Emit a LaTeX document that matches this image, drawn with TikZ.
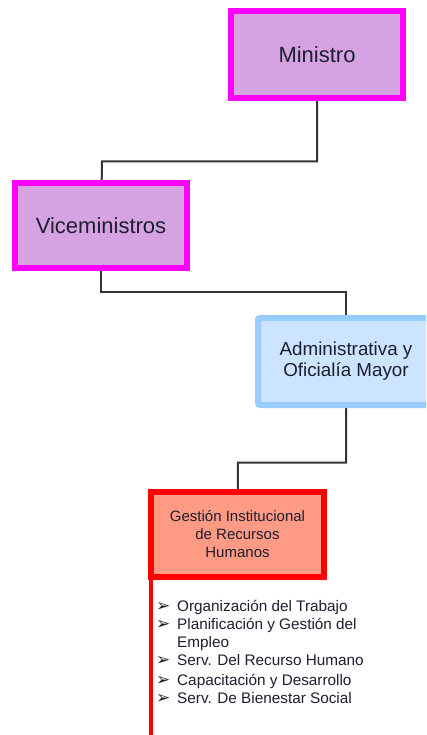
\documentclass[tikz,border=0pt]{standalone}
\usepackage{fontspec}
\setmainfont{Liberation Sans}
\newfontfamily\dejavu{DejaVu Sans}
\definecolor{lav}{HTML}{D5A2E2}
\definecolor{mag}{HTML}{FF00FF}
\definecolor{lblue}{HTML}{CCE4FF}
\definecolor{mblue}{HTML}{99CCFF}
\definecolor{salmon}{HTML}{FF9A85}
\definecolor{redb}{HTML}{FF0000}
\definecolor{conn}{HTML}{333333}
\definecolor{txt}{HTML}{1E1E30}
\pgfdeclarelayer{background}
\pgfsetlayers{background,main}
\begin{document}
\begin{tikzpicture}[x=1pt,y=-1pt,
  box/.style={rectangle, inner sep=0pt, outer sep=0pt, text=txt, align=center},
  mbox/.style={box, draw=mag, fill=lav, line width=6pt},
  abox/.style={box, draw=mblue, fill=lblue, line width=6pt, rounded corners=2pt},
  rbox/.style={box, draw=redb, fill=salmon, line width=6pt},
  link/.style={draw=conn, line width=2pt},
  item/.style={anchor=base west, inner sep=0pt, text=txt, font=\fontsize{15.3}{18}\selectfont},
  bul/.style={anchor=base west, inner sep=0pt, text=txt, font=\dejavu\fontsize{17}{18}\selectfont}]
\useasboundingbox (0,0) rectangle (426,735);
\clip (0,0) rectangle (426,735);
% nodes
\node[mbox, minimum width=172pt, minimum height=87pt, font=\fontsize{22}{26}\selectfont] (min) at (317,54.5) {Ministro};
\node[mbox, minimum width=172pt, minimum height=85pt, font=\fontsize{22}{26}\selectfont] (vice) at (101,225.5) {Viceministros};
\node[abox, minimum width=176pt, minimum height=87pt, font=\fontsize{18.8}{21}\selectfont] (adm) at (346,361.5) {Administrativa y\\Oficialía Mayor};
\node[rbox, minimum width=173pt, minimum height=85pt, font=\fontsize{15}{18}\selectfont] (girh) at (237.5,534.5) {Gestión Institucional\\de Recursos\\Humanos};
% connectors (behind boxes)
\coordinate (j1) at (102,161.5);
\coordinate (j2) at (346,292);
\coordinate (j3) at (238,462.5);
\begin{pgfonlayer}{background}
\fill[white] (0,0) rectangle (426,735);
\draw[link] (min.center) |- (j1) -- (vice.center);
\draw[link] (vice.center) |- (j2) -- (adm.center);
\draw[link] (adm.center) |- (j3) -- (girh.center);
\end{pgfonlayer}
% red vertical line
\coordinate (rtop) at (151,578);
\coordinate (rbot) at (151,740);
\draw[draw=redb, line width=4pt] (rtop) -- (rbot);
% list
\node[bul] (b1) at (156,611.5) {➢};
\node[item] (t1) at (177,611.5) {Organización del Trabajo};
\node[bul] (b2) at (156,629.5) {➢};
\node[item] (t2) at (177,629.5) {Planificación y Gestión del};
\node[item] (t2b) at (177,647.5) {Empleo};
\node[bul] (b3) at (156,665.5) {➢};
\node[item] (t3) at (177,665.5) {Serv. Del Recurso Humano};
\node[bul] (b4) at (156,685) {➢};
\node[item] (t4) at (177,685) {Capacitación y Desarrollo};
\node[bul] (b5) at (156,703) {➢};
\node[item] (t5) at (177,703) {Serv. De Bienestar Social};
\end{tikzpicture}
\end{document}
